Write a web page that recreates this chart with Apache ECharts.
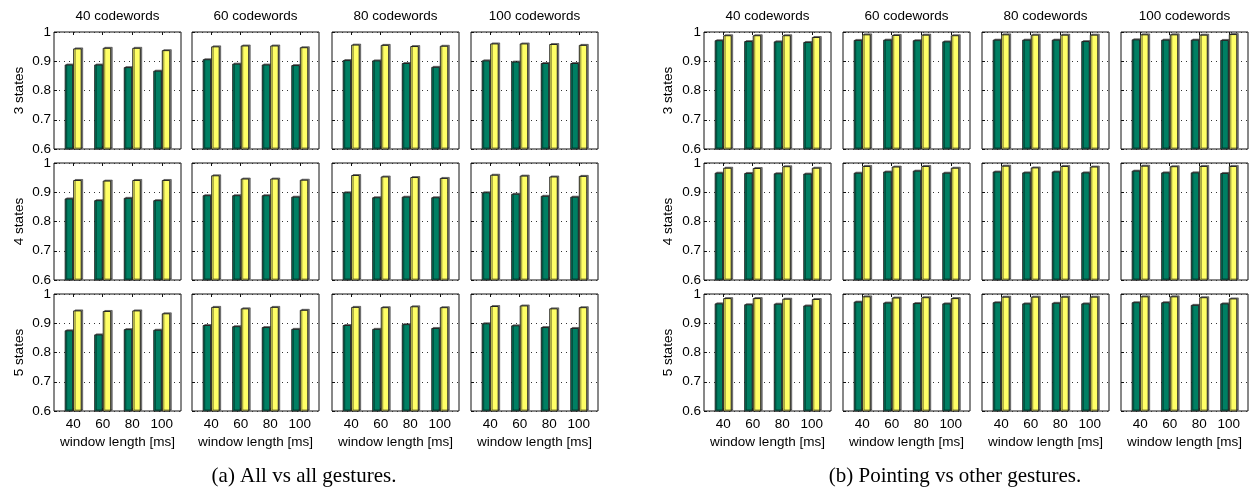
<!DOCTYPE html>
<html>
<head>
<meta charset="utf-8">
<script src="https://cdn.jsdelivr.net/npm/echarts@6/dist/echarts.min.js"></script>
<style>
  html, body { margin: 0; padding: 0; background: #fff; }
  #chart { width: 1257px; height: 488px; }
</style>
</head>
<body>
<div id="chart"></div>
<script>
// etiquetas
const windowLabels = ['40', '60', '80', '100'];
const codewordLabels = ['40 codewords', '60 codewords', '80 codewords', '100 codewords'];
const stateLabels = ['3 states', '4 states', '5 states'];
const captions = ['(a) All vs all gestures.', '(b) Pointing vs other gestures.'];

// (a) all vs all: una fila por codewords, valores por ventana 40/60/80/100
const a3Green = [[0.889, 0.889, 0.880, 0.868], [0.907, 0.892, 0.889, 0.887], [0.904, 0.903, 0.894, 0.881], [0.903, 0.899, 0.894, 0.894]];
const a3Yellow = [[0.944, 0.946, 0.946, 0.938], [0.951, 0.954, 0.954, 0.948], [0.957, 0.956, 0.952, 0.953], [0.961, 0.961, 0.959, 0.956]];
const a4Green = [[0.879, 0.873, 0.881, 0.873], [0.890, 0.890, 0.890, 0.885], [0.900, 0.883, 0.885, 0.883], [0.900, 0.895, 0.888, 0.885]];
const a4Yellow = [[0.942, 0.940, 0.942, 0.942], [0.958, 0.947, 0.947, 0.943], [0.959, 0.954, 0.952, 0.949], [0.960, 0.957, 0.954, 0.956]];
const a5Green = [[0.876, 0.862, 0.880, 0.878], [0.894, 0.890, 0.887, 0.881], [0.894, 0.881, 0.897, 0.884], [0.900, 0.893, 0.887, 0.884]];
const a5Yellow = [[0.944, 0.942, 0.944, 0.934], [0.956, 0.951, 0.956, 0.946], [0.956, 0.955, 0.958, 0.955], [0.959, 0.961, 0.951, 0.955]];

// (b) pointing vs other
const b3Green = [[0.972, 0.969, 0.968, 0.966], [0.973, 0.974, 0.972, 0.968], [0.974, 0.974, 0.974, 0.969], [0.975, 0.974, 0.974, 0.973]];
const b3Yellow = [[0.989, 0.989, 0.989, 0.983], [0.992, 0.990, 0.991, 0.989], [0.992, 0.991, 0.991, 0.991], [0.992, 0.992, 0.991, 0.993]];
const b4Green = [[0.967, 0.966, 0.965, 0.964], [0.967, 0.971, 0.974, 0.967], [0.971, 0.968, 0.971, 0.968], [0.974, 0.968, 0.968, 0.966]];
const b4Yellow = [[0.984, 0.983, 0.989, 0.984], [0.990, 0.988, 0.990, 0.984], [0.991, 0.985, 0.990, 0.988], [0.991, 0.989, 0.990, 0.990]];
const b5Green = [[0.968, 0.965, 0.967, 0.961], [0.974, 0.971, 0.969, 0.968], [0.972, 0.968, 0.970, 0.968], [0.972, 0.972, 0.963, 0.968]];
const b5Yellow = [[0.986, 0.986, 0.984, 0.983], [0.992, 0.988, 0.989, 0.986], [0.991, 0.991, 0.991, 0.991], [0.992, 0.992, 0.989, 0.985]];

const panels = [
    { green: [a3Green, a4Green, a5Green], yellow: [a3Yellow, a4Yellow, a5Yellow], lefts: [54, 192, 332, 471], nameGap: 28, captionX: 304 },
    { green: [b3Green, b4Green, b5Green], yellow: [b3Yellow, b4Yellow, b5Yellow], lefts: [704, 843, 982, 1121], nameGap: 29, captionX: 955 }
];
const tops = [32, 163, 294];
const boxW = 127;
const boxH = 117;

const font = 'Liberation Sans, Arial, sans-serif';
const fs = 13.5;
const grids = [], xAxes = [], yAxes = [], series = [], graphics = [];

panels.forEach((panel, p) => {
    tops.forEach((top, r) => {
        panel.lefts.forEach((left, c) => {
            const g = grids.length;
            grids.push({
                left: left, top: top, width: boxW, height: boxH,
                show: true, borderColor: '#111', borderWidth: 1, backgroundColor: '#fff'
            });
            // eje inferior
            xAxes.push({
                type: 'value', gridIndex: g, position: 'bottom', min: 0.35, max: 4.65,
                axisLine: { show: false },
                splitLine: { show: false },
                axisTick: { show: true, inside: true, length: 3, customValues: [1, 2, 3, 4], lineStyle: { color: '#111' } },
                axisLabel: {
                    show: r === 2, customValues: [1, 2, 3, 4], margin: 6,
                    formatter: v => windowLabels[Math.round(v) - 1],
                    color: '#000', fontSize: fs, fontFamily: font
                },
                name: r === 2 ? 'window length [ms]' : '',
                nameLocation: 'middle', nameGap: 24,
                nameTextStyle: { color: '#000', fontSize: fs, fontFamily: font }
            });
            // eje superior (solo marcas y titulo)
            xAxes.push({
                type: 'value', gridIndex: g, position: 'top', min: 0.35, max: 4.65,
                axisLine: { show: false },
                splitLine: { show: false },
                axisTick: { show: true, inside: true, length: 3, customValues: [1, 2, 3, 4], lineStyle: { color: '#111' } },
                axisLabel: { show: false },
                name: r === 0 ? codewordLabels[c] : '',
                nameLocation: 'middle', nameGap: 9,
                nameTextStyle: { color: '#000', fontSize: fs, fontFamily: font }
            });
            yAxes.push({
                type: 'value', gridIndex: g, min: 0.6, max: 1, interval: 0.1,
                axisLine: { show: false },
                axisTick: { show: true, inside: true, length: 3, lineStyle: { color: '#111' } },
                axisLabel: { show: c === 0, color: '#000', fontSize: fs, fontFamily: font, margin: 3 },
                splitLine: { show: true, lineStyle: { color: '#333', type: [1, 4], width: 1 } },
                name: c === 0 ? stateLabels[r] : '',
                nameLocation: 'middle', nameGap: panel.nameGap,
                nameTextStyle: { color: '#000', fontSize: fs, fontFamily: font }
            });
            const barStyle = color => ({
                color: color, borderColor: '#222', borderWidth: 1,
                shadowColor: 'rgba(0,0,0,0.45)', shadowOffsetX: 1.5, shadowOffsetY: -1, shadowBlur: 0
            });
            series.push({
                type: 'bar', xAxisIndex: 2 * g, yAxisIndex: g,
                barWidth: 8.5, barGap: '0%', silent: true,
                itemStyle: barStyle('#007f63'),
                data: panel.green[r][c].map((v, i) => [i + 1, v])
            });
            series.push({
                type: 'bar', xAxisIndex: 2 * g, yAxisIndex: g,
                barWidth: 8.5, barGap: '0%', silent: true,
                itemStyle: barStyle('#ffff66'),
                data: panel.yellow[r][c].map((v, i) => [i + 1, v])
            });
        });
    });
    graphics.push({
        type: 'text', x: panel.captionX, y: 476,
        style: {
            text: captions[p], fill: '#000', font: '21px "Liberation Serif", "Times New Roman", serif',
            align: 'center', verticalAlign: 'middle'
        }
    });
});

const chart = echarts.init(document.getElementById('chart'));
chart.setOption({
    animation: false,
    backgroundColor: '#fff',
    grid: grids,
    xAxis: xAxes,
    yAxis: yAxes,
    series: series,
    graphic: graphics
});
</script>
</body>
</html>
